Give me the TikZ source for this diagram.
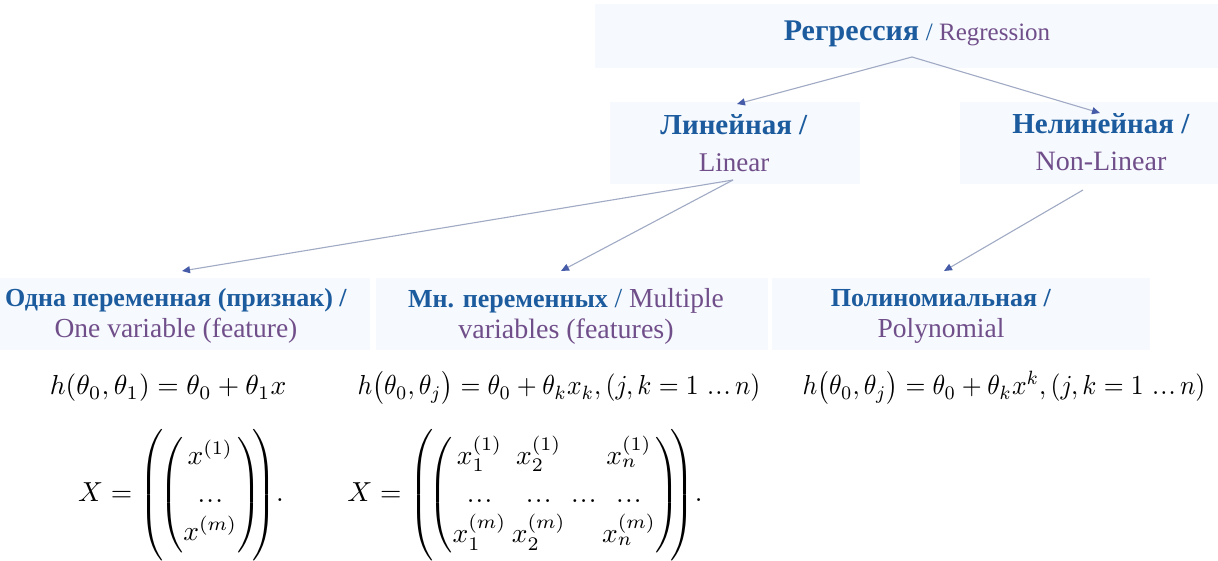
\documentclass[tikz,border=0pt]{standalone}
\usepackage{amsmath}
\usepackage{fontspec}
\setmainfont{Liberation Serif}
\usetikzlibrary{arrows.meta}
\definecolor{rublue}{RGB}{28,92,158}
\definecolor{enpurple}{RGB}{112,78,138}
\definecolor{arrline}{RGB}{160,170,196}
\definecolor{arrhead}{RGB}{70,92,168}
\definecolor{bgc}{RGB}{246,249,253}
\tikzset{
  label/.style={align=center, inner sep=0pt, font=\fontsize{27}{31}\selectfont},
  label2/.style={align=center, inner sep=0pt, font=\fontsize{28}{37}\selectfont},
  formula/.style={inner sep=0pt},
  conn/.style={draw=arrline, line width=1.1pt, -{Triangle[length=8pt,width=7pt,fill=arrhead,color=arrhead]}},
  bgbox/.style={fill=bgc, draw=none}
}
\newcommand{\ru}[2]{{\fontsize{#1}{#1}\selectfont\textcolor{rublue}{\textbf{#2}}}}
\newcommand{\en}[2]{{\fontsize{#1}{#1}\selectfont\textcolor{enpurple}{#2}}}
\newcommand{\fm}[1]{\scalebox{2.75}{#1}}
\newcommand{\fmn}[1]{\scalebox{2.56}[2.75]{#1}}
\newcommand{\tdots}{\mathinner{\ldotp\kern-0.12em\ldotp\kern-0.12em\ldotp}}
\newcommand{\bigstrut}{\rule[-21pt]{0pt}{47pt}}
\begin{document}
\begin{tikzpicture}[x=1pt,y=-1pt]
\useasboundingbox (0,0) rectangle (1218,561);
\fill[white] (0,0) rectangle (1218,561);
% faint backgrounds
\fill[bgbox] (595,4) rectangle (1218,68);
\fill[bgbox] (610,102) rectangle (860,184);
\fill[bgbox] (960,102) rectangle (1218,184);
\fill[bgbox] (0,278) rectangle (370,350);
\fill[bgbox] (376,278) rectangle (768,350);
\fill[bgbox] (772,278) rectangle (1150,350);

% headings
\node[label] (reg) at (917,34) {\ru{30}{Регрессия}\ \en{25}{\textcolor{rublue}{/} Regression}};
\node[label2] (lin) at (734,143) {\ru{29}{Линейная /}\\ \en{27}{Linear}};
\node[label2] (nlin) at (1101,142) {\ru{29}{Нелинейная /}\\ \en{28}{Non-Linear}};
\node[label] (one) at (176,316) {\ru{26}{Одна переменная (признак) /}\\ \en{27.5}{One variable (feature)}};
\node[label] (multi) at (566,316) {\ru{26}{Мн. переменных}\ \en{27.5}{\textcolor{rublue}{/} Multiple}\\ \en{28}{variables (features)}};
\node[label] (poly) at (941,316) {\ru{26}{Полиномиальная /}\\ \en{27.5}{Polynomial}};

% connector coordinates
\coordinate (regS) at (912,57);
\coordinate (linN) at (737,104);
\coordinate (nlinN) at (1100,113);
\coordinate (linS) at (733,180);
\coordinate (oneN) at (182,271);
\coordinate (multiN) at (561,271);
\coordinate (nlinS) at (1083,190);
\coordinate (polyN) at (944,271);

\draw[conn] (regS) -- (linN);
\draw[conn] (regS) -- (nlinN);
\draw[conn] (linS) -- (oneN);
\draw[conn] (linS) -- (multiN);
\draw[conn] (nlinS) -- (polyN);

% formulas
\node[formula] (f1) at (168,388) {\fm{$h(\theta_0,\theta_1)=\theta_0+\theta_1 x$}};
\node[formula] (f2) at (559,388) {\fmn{$h\bigl(\theta_0,\theta_j\bigr)=\theta_0+\theta_k x_k,(j,k=1\,\tdots n)$}};
\node[formula] (f3) at (1004,388) {\fmn{$h\bigl(\theta_0,\theta_j\bigr)=\theta_0+\theta_k x^k,(j,k=1\,\tdots n)$}};

\node[formula] (m1) at (181,495) {\fm{$\renewcommand\arraystretch{1.15}X=\left(\bigstrut\!\!\begin{pmatrix}x^{(1)}\\ \tdots\\ x^{(m)}\end{pmatrix}\!\!\right)\!.$}};
\node[formula] (m2) at (525,495) {\fm{$\renewcommand\arraystretch{1.15}\setlength\arraycolsep{1pt}X=\left(\bigstrut\!\!\begin{pmatrix}x_1^{(1)} & x_2^{(1)} & & x_n^{(1)}\\ \tdots & \tdots & \tdots & \tdots\\ x_1^{(m)} & x_2^{(m)} & & x_n^{(m)}\end{pmatrix}\!\!\right)\!.$}};
\end{tikzpicture}
\end{document}
